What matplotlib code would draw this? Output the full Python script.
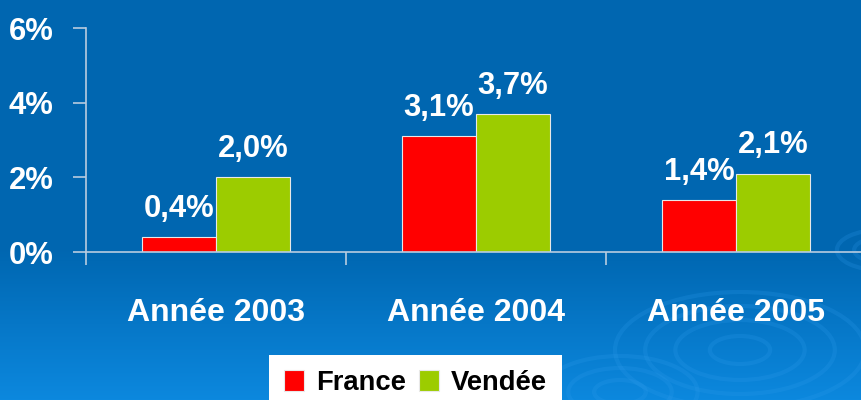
import matplotlib.pyplot as plt
import numpy as np
from matplotlib import font_manager
from matplotlib.patches import Circle

# Data
categories = ["Année 2003", "Année 2004", "Année 2005"]
france = [0.4, 3.1, 1.4]
vendee = [2.0, 3.7, 2.1]
series_names = ["France", "Vendée"]
ytick_vals = [0, 2, 4, 6]
ytick_labels = ["0%", "2%", "4%", "6%"]

# reference uses Arial Narrow Bold; use Liberation Sans Narrow if present,
# otherwise plain Liberation Sans at a smaller size so widths match
names = {f.name for f in font_manager.fontManager.ttflist}
if 'Liberation Sans Narrow' in names:
    plt.rcParams['font.family'] = ['Liberation Sans Narrow', 'DejaVu Sans']
    scale = 1.18
else:
    plt.rcParams['font.family'] = ['Liberation Sans', 'DejaVu Sans']
    scale = 1.0
plt.rcParams['font.weight'] = 'bold'

cat_size = 23 * scale
val_size = 22.3 * scale
leg_size = 19.7 * scale

fig = plt.figure(figsize=(8.62, 4.0), dpi=100)

# Background: flat blue at top, gradient to lighter blue at bottom
bg = fig.add_axes([0, 0, 1, 1], zorder=-10)
rows = np.linspace(0, 1, 400)
t = np.clip((rows - 0.62) / 0.38, 0, 1)
top = np.array([0x00, 0x66, 0xb0]) / 255
bot = np.array([0x0c, 0x88, 0xde]) / 255
grad = top[None, :] * (1 - t[:, None]) + bot[None, :] * t[:, None]
bg.imshow(grad[:, None, :], aspect='auto', extent=[0, 1, 0, 1], origin='upper')
# faint ripple decoration
for cx, cy, radii in [(740 / 862, 50 / 400, [0.035, 0.075, 0.11, 0.145]),
                      (620 / 862, 8 / 400, [0.03, 0.06, 0.09]),
                      (880 / 862, 150 / 400, [0.03, 0.05])]:
    for r in radii:
        bg.add_patch(Circle((cx, cy), r, transform=bg.transAxes, fill=False,
                            ec='#2f9cec', lw=3, alpha=0.22))
bg.set_xlim(0, 1)
bg.set_ylim(0, 1)
bg.axis('off')

ax = fig.add_axes([86 / 862, 148 / 400, 780 / 862, 224 / 400])
ax.patch.set_alpha(0)

x = np.arange(len(categories))
w = 74 / 260
b1 = ax.bar(x - w / 2, france, w, color='#ff0000', edgecolor='#e8e8e8', linewidth=0.8, label=series_names[0])
b2 = ax.bar(x + w / 2, vendee, w, color='#9ccc00', edgecolor='#e8e8e8', linewidth=0.8, label=series_names[1])

for bars, vals in [(b1, france), (b2, vendee)]:
    for rect, v in zip(bars, vals):
        ax.annotate(f"{v:.1f}%".replace('.', ','),
                    (rect.get_x() + rect.get_width() / 2, rect.get_height()),
                    xytext=(0, 14.5), textcoords='offset points',
                    ha='center', va='baseline', color='white', fontsize=val_size, fontweight='bold')

ax.set_xlim(-0.5, 2.5)
ax.set_ylim(0, 6)
ax.set_yticks(ytick_vals)
ax.set_yticklabels(ytick_labels)
ax.set_xticks(x)
ax.set_xticklabels(categories)
ax.set_xticks([-0.5, 0.5, 1.5, 2.5], minor=True)

spine_col = '#b8cce0'
for s in ['top', 'right']:
    ax.spines[s].set_visible(False)
for s in ['left', 'bottom']:
    ax.spines[s].set_color(spine_col)
    ax.spines[s].set_linewidth(1.2)
ax.spines['bottom'].set_zorder(5)

ax.tick_params(axis='y', colors=spine_col, length=9.5, width=1.2, pad=14,
               labelcolor='white', labelsize=val_size)
ax.tick_params(axis='x', which='major', length=0, pad=33, labelcolor='white', labelsize=cat_size)
ax.tick_params(axis='x', which='minor', length=9, width=1.2, color=spine_col, direction='out')

leg = fig.legend(loc='upper center', bbox_to_anchor=(415.5 / 862, 45 / 400), ncol=2,
                 frameon=True, fancybox=False, framealpha=1, edgecolor='white',
                 prop={'size': leg_size, 'weight': 'bold'},
                 handlelength=0.73, handleheight=0.78, handletextpad=0.44, columnspacing=0.47,
                 borderpad=0.55, borderaxespad=0)
leg.get_frame().set_linewidth(0)
for txt in leg.get_texts():
    txt.set_color('black')

fig.savefig('out.png', dpi=100)
